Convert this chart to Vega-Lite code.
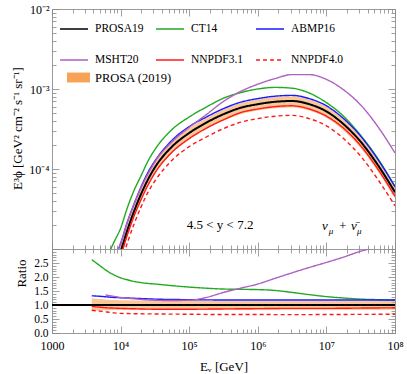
{
"$schema": "https://vega.github.io/schema/vega-lite/v6.json",
"padding": {"left": 10, "top": 2, "right": 5, "bottom": 3},
"bounds": "flush",
"spacing": 0,
"config": {
 "font": "Liberation Serif",
 "view": {"stroke": "#999999", "strokeWidth": 1},
 "axis": {"domain": false, "grid": false, "tickColor": "#888888", "tickWidth": 0.8, "labelColor": "#000000", "labelFont": "Liberation Serif", "labelFontSize": 12, "titleFont": "Liberation Serif", "titleFontSize": 13, "titleFontWeight": "normal", "titleColor": "#000000", "labelOverlap": false, "labelFlush": false},
 "legend": {"labelFont": "Liberation Serif", "labelColor": "#000000", "padding": 0}
},
"datasets": {
 "top": [
  {"E":3981,"s":"PROSA19","v":1.122e-6},{"E":5012,"s":"PROSA19","v":1.995e-6},{"E":6310,"s":"PROSA19","v":3.467e-6},{"E":7943,"s":"PROSA19","v":5.754e-6},{"E":10000,"s":"PROSA19","v":9.333e-6},{"E":12589,"s":"PROSA19","v":1.738e-5},{"E":15849,"s":"PROSA19","v":3.020e-5},{"E":19953,"s":"PROSA19","v":4.898e-5},{"E":25119,"s":"PROSA19","v":7.413e-5},{"E":31623,"s":"PROSA19","v":1.047e-4},{"E":56234,"s":"PROSA19","v":1.905e-4},{"E":100000,"s":"PROSA19","v":2.818e-4},{"E":177828,"s":"PROSA19","v":3.802e-4},{"E":316228,"s":"PROSA19","v":4.842e-4},{"E":562341,"s":"PROSA19","v":5.821e-4},{"E":1000000,"s":"PROSA19","v":6.457e-4},{"E":1778279,"s":"PROSA19","v":6.918e-4},{"E":3162278,"s":"PROSA19","v":7.079e-4},{"E":5623413,"s":"PROSA19","v":6.457e-4},{"E":10000000,"s":"PROSA19","v":5.248e-4},{"E":17782794,"s":"PROSA19","v":3.631e-4},{"E":31622777,"s":"PROSA19","v":2.188e-4},{"E":56234133,"s":"PROSA19","v":1.122e-4},{"E":100000000,"s":"PROSA19","v":5.129e-5},
  {"E":3981,"s":"CT14","v":2.884e-6},{"E":5012,"s":"CT14","v":4.786e-6},{"E":6310,"s":"CT14","v":7.762e-6},{"E":7943,"s":"CT14","v":1.202e-5},{"E":10000,"s":"CT14","v":1.820e-5},{"E":12589,"s":"CT14","v":3.311e-5},{"E":15849,"s":"CT14","v":5.495e-5},{"E":19953,"s":"CT14","v":8.3e-5},{"E":25119,"s":"CT14","v":1.26e-4},{"E":31623,"s":"CT14","v":1.75e-4},{"E":56234,"s":"CT14","v":3.12e-4},{"E":100000,"s":"CT14","v":4.47e-4},{"E":177828,"s":"CT14","v":5.95e-4},{"E":316228,"s":"CT14","v":7.674e-4},{"E":562341,"s":"CT14","v":9.016e-4},{"E":1000000,"s":"CT14","v":1.000e-3},{"E":1778279,"s":"CT14","v":1.047e-3},{"E":3162278,"s":"CT14","v":1.023e-3},{"E":5623413,"s":"CT14","v":8.913e-4},{"E":10000000,"s":"CT14","v":6.761e-4},{"E":17782794,"s":"CT14","v":4.571e-4},{"E":31622777,"s":"CT14","v":2.630e-4},{"E":56234133,"s":"CT14","v":1.349e-4},{"E":100000000,"s":"CT14","v":6.026e-5},
  {"E":3981,"s":"ABMP16","v":1.479e-6},{"E":5012,"s":"ABMP16","v":2.630e-6},{"E":6310,"s":"ABMP16","v":4.467e-6},{"E":7943,"s":"ABMP16","v":7.244e-6},{"E":10000,"s":"ABMP16","v":1.175e-5},{"E":12589,"s":"ABMP16","v":2.188e-5},{"E":15849,"s":"ABMP16","v":3.715e-5},{"E":19953,"s":"ABMP16","v":6.026e-5},{"E":25119,"s":"ABMP16","v":9.120e-5},{"E":31623,"s":"ABMP16","v":1.259e-4},{"E":56234,"s":"ABMP16","v":2.291e-4},{"E":100000,"s":"ABMP16","v":3.388e-4},{"E":177828,"s":"ABMP16","v":4.467e-4},{"E":316228,"s":"ABMP16","v":5.689e-4},{"E":562341,"s":"ABMP16","v":6.840e-4},{"E":1000000,"s":"ABMP16","v":7.586e-4},{"E":1778279,"s":"ABMP16","v":8.128e-4},{"E":3162278,"s":"ABMP16","v":8.318e-4},{"E":5623413,"s":"ABMP16","v":7.586e-4},{"E":10000000,"s":"ABMP16","v":6.166e-4},{"E":17782794,"s":"ABMP16","v":4.266e-4},{"E":31622777,"s":"ABMP16","v":2.570e-4},{"E":56234133,"s":"ABMP16","v":1.318e-4},{"E":100000000,"s":"ABMP16","v":6.026e-5},
  {"E":3981,"s":"MSHT20","v":1.585e-6},{"E":5012,"s":"MSHT20","v":2.818e-6},{"E":6310,"s":"MSHT20","v":4.677e-6},{"E":7943,"s":"MSHT20","v":7.586e-6},{"E":10000,"s":"MSHT20","v":1.175e-5},{"E":12589,"s":"MSHT20","v":2.188e-5},{"E":15849,"s":"MSHT20","v":3.715e-5},{"E":19953,"s":"MSHT20","v":5.888e-5},{"E":25119,"s":"MSHT20","v":8.710e-5},{"E":31623,"s":"MSHT20","v":1.230e-4},{"E":56234,"s":"MSHT20","v":2.188e-4},{"E":100000,"s":"MSHT20","v":3.311e-4},{"E":177828,"s":"MSHT20","v":4.786e-4},{"E":316228,"s":"MSHT20","v":6.998e-4},{"E":562341,"s":"MSHT20","v":9.333e-4},{"E":1000000,"s":"MSHT20","v":1.148e-3},{"E":1778279,"s":"MSHT20","v":1.349e-3},{"E":3162278,"s":"MSHT20","v":1.514e-3},{"E":5623413,"s":"MSHT20","v":1.514e-3},{"E":10000000,"s":"MSHT20","v":1.318e-3},{"E":17782794,"s":"MSHT20","v":9.772e-4},{"E":31622777,"s":"MSHT20","v":6.310e-4},{"E":56234133,"s":"MSHT20","v":3.388e-4},{"E":100000000,"s":"MSHT20","v":1.585e-4},
  {"E":3981,"s":"NNPDF3.1","v":1.072e-6},{"E":5012,"s":"NNPDF3.1","v":1.820e-6},{"E":6310,"s":"NNPDF3.1","v":3.090e-6},{"E":7943,"s":"NNPDF3.1","v":5.129e-6},{"E":10000,"s":"NNPDF3.1","v":8.128e-6},{"E":12589,"s":"NNPDF3.1","v":1.514e-5},{"E":15849,"s":"NNPDF3.1","v":2.630e-5},{"E":19953,"s":"NNPDF3.1","v":4.169e-5},{"E":25119,"s":"NNPDF3.1","v":6.310e-5},{"E":31623,"s":"NNPDF3.1","v":8.913e-5},{"E":56234,"s":"NNPDF3.1","v":1.622e-4},{"E":100000,"s":"NNPDF3.1","v":2.399e-4},{"E":177828,"s":"NNPDF3.1","v":3.236e-4},{"E":316228,"s":"NNPDF3.1","v":4.121e-4},{"E":562341,"s":"NNPDF3.1","v":5.070e-4},{"E":1000000,"s":"NNPDF3.1","v":5.623e-4},{"E":1778279,"s":"NNPDF3.1","v":6.026e-4},{"E":3162278,"s":"NNPDF3.1","v":6.166e-4},{"E":5623413,"s":"NNPDF3.1","v":5.623e-4},{"E":10000000,"s":"NNPDF3.1","v":4.571e-4},{"E":17782794,"s":"NNPDF3.1","v":3.236e-4},{"E":31622777,"s":"NNPDF3.1","v":1.950e-4},{"E":56234133,"s":"NNPDF3.1","v":1.000e-4},{"E":100000000,"s":"NNPDF3.1","v":4.571e-5},
  {"E":3981,"s":"NNPDF4.0","v":9.120e-7},{"E":5012,"s":"NNPDF4.0","v":1.549e-6},{"E":6310,"s":"NNPDF4.0","v":2.570e-6},{"E":7943,"s":"NNPDF4.0","v":4.169e-6},{"E":10000,"s":"NNPDF4.0","v":6.457e-6},{"E":12589,"s":"NNPDF4.0","v":1.202e-5},{"E":15849,"s":"NNPDF4.0","v":2.089e-5},{"E":19953,"s":"NNPDF4.0","v":3.388e-5},{"E":25119,"s":"NNPDF4.0","v":5.129e-5},{"E":31623,"s":"NNPDF4.0","v":7.079e-5},{"E":56234,"s":"NNPDF4.0","v":1.288e-4},{"E":100000,"s":"NNPDF4.0","v":1.905e-4},{"E":177828,"s":"NNPDF4.0","v":2.512e-4},{"E":316228,"s":"NNPDF4.0","v":3.199e-4},{"E":562341,"s":"NNPDF4.0","v":3.846e-4},{"E":1000000,"s":"NNPDF4.0","v":4.266e-4},{"E":1778279,"s":"NNPDF4.0","v":4.571e-4},{"E":3162278,"s":"NNPDF4.0","v":4.677e-4},{"E":5623413,"s":"NNPDF4.0","v":4.266e-4},{"E":10000000,"s":"NNPDF4.0","v":3.467e-4},{"E":17782794,"s":"NNPDF4.0","v":2.399e-4},{"E":31622777,"s":"NNPDF4.0","v":1.445e-4},{"E":56234133,"s":"NNPDF4.0","v":7.413e-5},{"E":100000000,"s":"NNPDF4.0","v":3.467e-5}
 ],
 "bandTop": [
  {"E":3981,"lo":8.710e-7,"hi":1.380e-6},{"E":5012,"lo":1.585e-6,"hi":2.399e-6},{"E":6310,"lo":2.818e-6,"hi":4.169e-6},{"E":7943,"lo":4.677e-6,"hi":6.761e-6},{"E":10000,"lo":7.586e-6,"hi":1.096e-5},{"E":12589,"lo":1.445e-5,"hi":2.042e-5},{"E":15849,"lo":2.512e-5,"hi":3.548e-5},{"E":19953,"lo":4.074e-5,"hi":5.754e-5},{"E":25119,"lo":6.166e-5,"hi":8.710e-5},{"E":31623,"lo":8.710e-5,"hi":1.216e-4},{"E":56234,"lo":1.585e-4,"hi":2.213e-4},{"E":100000,"lo":2.344e-4,"hi":3.236e-4},{"E":177828,"lo":3.162e-4,"hi":4.365e-4},{"E":316228,"lo":4.027e-4,"hi":5.559e-4},{"E":562341,"lo":4.842e-4,"hi":6.684e-4},{"E":1000000,"lo":5.370e-4,"hi":7.413e-4},{"E":1778279,"lo":5.754e-4,"hi":7.943e-4},{"E":3162278,"lo":5.888e-4,"hi":8.128e-4},{"E":5623413,"lo":5.370e-4,"hi":7.413e-4},{"E":10000000,"lo":4.365e-4,"hi":6.026e-4},{"E":17782794,"lo":3.020e-4,"hi":4.169e-4},{"E":31622777,"lo":1.820e-4,"hi":2.512e-4},{"E":56234133,"lo":9.333e-5,"hi":1.288e-4},{"E":100000000,"lo":4.266e-5,"hi":5.888e-5}
 ],
 "notes": [
  {"E":281838,"v":2.0e-5,"t":"4.5 < y < 7.2"}
 ],
 "nu": [
  {"E":9500000,"v":1.95e-5,"t":"ν","fs":13},
  {"E":11700000,"v":1.68e-5,"t":"μ","fs":9},
  {"E":17200000,"v":1.95e-5,"t":"+","fs":13},
  {"E":25100000,"v":1.95e-5,"t":"ν̄","fs":13},
  {"E":30200000,"v":1.68e-5,"t":"μ","fs":9}
 ],
 "ratio": [
  {"E":1000,"s":"PROSA19","r":1},{"E":100000000,"s":"PROSA19","r":1},
  {"E":3800,"s":"CT14","r":2.62},{"E":5012,"s":"CT14","r":2.40},{"E":6310,"s":"CT14","r":2.22},{"E":7943,"s":"CT14","r":2.08},{"E":10000,"s":"CT14","r":1.97},{"E":12589,"s":"CT14","r":1.90},{"E":15849,"s":"CT14","r":1.84},{"E":19953,"s":"CT14","r":1.80},{"E":25119,"s":"CT14","r":1.77},{"E":31623,"s":"CT14","r":1.75},{"E":56234,"s":"CT14","r":1.69},{"E":100000,"s":"CT14","r":1.64},{"E":177828,"s":"CT14","r":1.60},{"E":316228,"s":"CT14","r":1.57},{"E":562341,"s":"CT14","r":1.56},{"E":1000000,"s":"CT14","r":1.55},{"E":1778279,"s":"CT14","r":1.52},{"E":3162278,"s":"CT14","r":1.45},{"E":5623413,"s":"CT14","r":1.37},{"E":10000000,"s":"CT14","r":1.30},{"E":17782794,"s":"CT14","r":1.25},{"E":31622777,"s":"CT14","r":1.21},{"E":56234133,"s":"CT14","r":1.19},{"E":100000000,"s":"CT14","r":1.17},
  {"E":3800,"s":"ABMP16","r":1.33},{"E":5012,"s":"ABMP16","r":1.31},{"E":6310,"s":"ABMP16","r":1.29},{"E":7943,"s":"ABMP16","r":1.27},{"E":10000,"s":"ABMP16","r":1.26},{"E":15849,"s":"ABMP16","r":1.24},{"E":31623,"s":"ABMP16","r":1.21},{"E":100000,"s":"ABMP16","r":1.19},{"E":316228,"s":"ABMP16","r":1.18},{"E":1000000,"s":"ABMP16","r":1.18},{"E":10000000,"s":"ABMP16","r":1.18},{"E":100000000,"s":"ABMP16","r":1.18},
  {"E":6000,"s":"MSHT20","r":1.36},{"E":7943,"s":"MSHT20","r":1.31},{"E":10000,"s":"MSHT20","r":1.27},{"E":15849,"s":"MSHT20","r":1.22},{"E":31623,"s":"MSHT20","r":1.17},{"E":56234,"s":"MSHT20","r":1.16},{"E":100000,"s":"MSHT20","r":1.17},{"E":177828,"s":"MSHT20","r":1.27},{"E":316228,"s":"MSHT20","r":1.45},{"E":562341,"s":"MSHT20","r":1.60},{"E":1000000,"s":"MSHT20","r":1.75},{"E":1778279,"s":"MSHT20","r":1.95},{"E":3162278,"s":"MSHT20","r":2.15},{"E":5623413,"s":"MSHT20","r":2.34},{"E":10000000,"s":"MSHT20","r":2.52},{"E":17782794,"s":"MSHT20","r":2.71},{"E":31622777,"s":"MSHT20","r":2.92},{"E":56234133,"s":"MSHT20","r":3.08},{"E":100000000,"s":"MSHT20","r":3.2},
  {"E":3800,"s":"NNPDF3.1","r":0.95},{"E":5012,"s":"NNPDF3.1","r":0.92},{"E":6310,"s":"NNPDF3.1","r":0.90},{"E":7943,"s":"NNPDF3.1","r":0.89},{"E":10000,"s":"NNPDF3.1","r":0.88},{"E":15849,"s":"NNPDF3.1","r":0.865},{"E":31623,"s":"NNPDF3.1","r":0.85},{"E":100000,"s":"NNPDF3.1","r":0.85},{"E":316228,"s":"NNPDF3.1","r":0.86},{"E":1000000,"s":"NNPDF3.1","r":0.87},{"E":3162278,"s":"NNPDF3.1","r":0.88},{"E":10000000,"s":"NNPDF3.1","r":0.88},{"E":31622777,"s":"NNPDF3.1","r":0.89},{"E":100000000,"s":"NNPDF3.1","r":0.90},
  {"E":3800,"s":"NNPDF4.0","r":0.81},{"E":5012,"s":"NNPDF4.0","r":0.78},{"E":6310,"s":"NNPDF4.0","r":0.75},{"E":7943,"s":"NNPDF4.0","r":0.72},{"E":10000,"s":"NNPDF4.0","r":0.70},{"E":15849,"s":"NNPDF4.0","r":0.69},{"E":31623,"s":"NNPDF4.0","r":0.68},{"E":100000,"s":"NNPDF4.0","r":0.67},{"E":316228,"s":"NNPDF4.0","r":0.66},{"E":1000000,"s":"NNPDF4.0","r":0.66},{"E":3162278,"s":"NNPDF4.0","r":0.655},{"E":10000000,"s":"NNPDF4.0","r":0.66},{"E":31622777,"s":"NNPDF4.0","r":0.665},{"E":100000000,"s":"NNPDF4.0","r":0.67}
 ],
 "rband": [
  {"E":3800,"lo":0.78,"hi":1.24},{"E":5012,"lo":0.80,"hi":1.21},{"E":6310,"lo":0.81,"hi":1.19},{"E":10000,"lo":0.82,"hi":1.17},{"E":31623,"lo":0.83,"hi":1.16},{"E":100000,"lo":0.83,"hi":1.15},{"E":100000000,"lo":0.83,"hi":1.15}
 ]
},
"resolve": {"scale": {"color": "independent", "strokeDash": "independent", "fill": "independent"}},
"vconcat": [
 {
  "width": 343, "height": 240,
  "layer": [
   {
    "data": {"name": "bandTop"},
    "mark": {"type": "area", "clip": true, "fillOpacity": 0.6, "interpolate": "monotone"},
    "encoding": {
     "x": {"field": "E", "type": "quantitative", "scale": {"type": "log", "domain": [1000, 100000000], "nice": false},
       "axis": {"orient": "bottom", "labels": false, "title": null, "values": [1000,2000,3000,4000,5000,6000,7000,8000,9000,10000,20000,30000,40000,50000,60000,70000,80000,90000,100000,200000,300000,400000,500000,600000,700000,800000,900000,1000000,2000000,3000000,4000000,5000000,6000000,7000000,8000000,9000000,10000000,20000000,30000000,40000000,50000000,60000000,70000000,80000000,90000000,100000000],
         "tickSize": {"condition": {"test": "datum.value==1000||datum.value==10000||datum.value==100000||datum.value==1000000||datum.value==10000000||datum.value==100000000", "value": -7}, "value": -4}}},
     "y": {"field": "lo", "type": "quantitative", "scale": {"type": "log", "domain": [0.00001, 0.01], "nice": false},
       "axis": {"orient": "right", "labels": false, "title": null, "values": [1e-5,2e-5,3e-5,4e-5,5e-5,6e-5,7e-5,8e-5,9e-5,1e-4,2e-4,3e-4,4e-4,5e-4,6e-4,7e-4,8e-4,9e-4,1e-3,2e-3,3e-3,4e-3,5e-3,6e-3,7e-3,8e-3,9e-3,1e-2],
         "tickSize": {"condition": {"test": "datum.value==0.00001||datum.value==0.0001||datum.value==0.001||datum.value==0.01", "value": -7}, "value": -4}}},
     "y2": {"field": "hi"},
     "fill": {"datum": "PROSA (2019)", "type": "nominal", "scale": {"domain": ["PROSA (2019)"], "range": ["#f7a254"]},
       "legend": {"title": null, "orient": "none", "legendX": 15, "legendY": 57, "symbolType": "M-1,-0.43H1V0.43H-1Z", "symbolSize": 529, "symbolOpacity": 1, "symbolStrokeWidth": 0, "labelFontSize": 12.5, "labelOffset": 5}}
    }
   },
   {
    "data": {"name": "top"},
    "mark": {"type": "line", "clip": true, "interpolate": "monotone"},
    "encoding": {
     "x": {"field": "E", "type": "quantitative", "scale": {"type": "log", "domain": [1000, 100000000], "nice": false},
       "axis": {"orient": "top", "labels": false, "title": null, "values": [1000,2000,3000,4000,5000,6000,7000,8000,9000,10000,20000,30000,40000,50000,60000,70000,80000,90000,100000,200000,300000,400000,500000,600000,700000,800000,900000,1000000,2000000,3000000,4000000,5000000,6000000,7000000,8000000,9000000,10000000,20000000,30000000,40000000,50000000,60000000,70000000,80000000,90000000,100000000],
         "tickSize": {"condition": {"test": "datum.value==1000||datum.value==10000||datum.value==100000||datum.value==1000000||datum.value==10000000||datum.value==100000000", "value": -7}, "value": -4}}},
     "y": {"field": "v", "type": "quantitative", "scale": {"type": "log", "domain": [0.00001, 0.01], "nice": false},
       "axis": {"orient": "left", "title": "E³ϕ [GeV² cm⁻² s⁻¹ sr⁻¹]", "titleX": -35, "titleY": 119, "titleBaseline": "middle", "labelPadding": 10, "values": [1e-5,2e-5,3e-5,4e-5,5e-5,6e-5,7e-5,8e-5,9e-5,1e-4,2e-4,3e-4,4e-4,5e-4,6e-4,7e-4,8e-4,9e-4,1e-3,2e-3,3e-3,4e-3,5e-3,6e-3,7e-3,8e-3,9e-3,1e-2],
         "labelExpr": "datum.value==0.01?'10⁻²':datum.value==0.001?'10⁻³':datum.value==0.0001?'10⁻⁴':''",
         "tickSize": {"condition": {"test": "datum.value==0.00001||datum.value==0.0001||datum.value==0.001||datum.value==0.01", "value": -7}, "value": -4}}},
     "color": {"field": "s", "type": "nominal", "scale": {"domain": ["PROSA19","CT14","ABMP16","MSHT20","NNPDF3.1","NNPDF4.0"], "range": ["#000000","#22aa22","#1a1aff","#b060c0","#ff1a1a","#ff1a1a"]},
       "legend": {"title": null, "orient": "none", "legendX": 7, "legendY": 5, "direction": "horizontal", "columns": 3, "gridAlign": "none", "symbolType": "stroke", "symbolSize": 784, "symbolStrokeWidth": 1.6, "labelFontSize": 11.5, "labelOffset": 6, "columnPadding": 8, "rowPadding": 10}},
     "strokeDash": {"field": "s", "type": "nominal", "scale": {"domain": ["PROSA19","CT14","ABMP16","MSHT20","NNPDF3.1","NNPDF4.0"], "range": [[1,0],[1,0],[1,0],[1,0],[1,0],[4,3]]},
       "legend": {"title": null, "orient": "none", "legendX": 7, "legendY": 5, "direction": "horizontal", "columns": 3, "gridAlign": "none", "symbolType": "stroke", "symbolSize": 784, "symbolStrokeWidth": 1.6, "labelFontSize": 11.5, "labelOffset": 6, "columnPadding": 8, "rowPadding": 10}},
     "strokeWidth": {"condition": {"test": "datum.s=='PROSA19'", "value": 2}, "value": 1.4}
    }
   },
   {
    "data": {"name": "notes"},
    "mark": {"type": "text", "fontSize": 13, "font": "Liberation Serif", "color": "#000000"},
    "encoding": {
     "x": {"field": "E", "type": "quantitative", "axis": null},
     "y": {"field": "v", "type": "quantitative", "axis": null},
     "text": {"field": "t"}
    }
   },
   {
    "data": {"name": "nu"},
    "mark": {"type": "text", "font": "Liberation Serif", "fontStyle": "italic", "color": "#000000"},
    "encoding": {
     "x": {"field": "E", "type": "quantitative", "axis": null},
     "y": {"field": "v", "type": "quantitative", "axis": null},
     "text": {"field": "t"},
     "size": {"field": "fs", "type": "quantitative", "scale": null}
    }
   }
  ]
 },
 {
  "width": 343, "height": 84,
  "layer": [
   {
    "data": {"name": "rband"},
    "mark": {"type": "area", "clip": true, "fillOpacity": 0.6, "interpolate": "monotone", "fill": "#f7a254"},
    "encoding": {
     "x": {"field": "E", "type": "quantitative", "scale": {"type": "log", "domain": [1000, 100000000], "nice": false},
       "axis": {"orient": "bottom", "title": "Eᵥ  [GeV]", "titleY": 33, "titleBaseline": "middle", "labelPadding": 14, "values": [1000,2000,3000,4000,5000,6000,7000,8000,9000,10000,20000,30000,40000,50000,60000,70000,80000,90000,100000,200000,300000,400000,500000,600000,700000,800000,900000,1000000,2000000,3000000,4000000,5000000,6000000,7000000,8000000,9000000,10000000,20000000,30000000,40000000,50000000,60000000,70000000,80000000,90000000,100000000],
         "labelExpr": "datum.value==1000?'1000':datum.value==10000?'10⁴':datum.value==100000?'10⁵':datum.value==1000000?'10⁶':datum.value==10000000?'10⁷':datum.value==100000000?'10⁸':''",
         "tickSize": {"condition": {"test": "datum.value==1000||datum.value==10000||datum.value==100000||datum.value==1000000||datum.value==10000000||datum.value==100000000", "value": -7}, "value": -4}}},
     "y": {"field": "lo", "type": "quantitative", "scale": {"domain": [0, 3], "nice": false, "zero": false},
       "axis": {"orient": "right", "labels": false, "title": null, "values": [0,0.1,0.2,0.3,0.4,0.5,0.6,0.7,0.8,0.9,1.0,1.1,1.2,1.3,1.4,1.5,1.6,1.7,1.8,1.9,2.0,2.1,2.2,2.3,2.4,2.5,2.6,2.7,2.8,2.9,3.0],
         "tickSize": {"condition": {"test": "abs(datum.value*2-round(datum.value*2))<0.01", "value": -7}, "value": -4}}},
     "y2": {"field": "hi"}
    }
   },
   {
    "data": {"name": "ratio"},
    "mark": {"type": "line", "clip": true, "interpolate": "monotone"},
    "encoding": {
     "x": {"field": "E", "type": "quantitative", "scale": {"type": "log", "domain": [1000, 100000000], "nice": false},
       "axis": {"orient": "top", "labels": false, "title": null, "values": [1000,2000,3000,4000,5000,6000,7000,8000,9000,10000,20000,30000,40000,50000,60000,70000,80000,90000,100000,200000,300000,400000,500000,600000,700000,800000,900000,1000000,2000000,3000000,4000000,5000000,6000000,7000000,8000000,9000000,10000000,20000000,30000000,40000000,50000000,60000000,70000000,80000000,90000000,100000000],
         "tickSize": {"condition": {"test": "datum.value==1000||datum.value==10000||datum.value==100000||datum.value==1000000||datum.value==10000000||datum.value==100000000", "value": -7}, "value": -4}}},
     "y": {"field": "r", "type": "quantitative", "scale": {"domain": [0, 3], "nice": false, "zero": false},
       "axis": {"orient": "left", "title": "Ratio", "titleX": -31, "titleY": 24, "titleBaseline": "middle", "labelPadding": 11, "labelFontSize": 11.5, "values": [0,0.1,0.2,0.3,0.4,0.5,0.6,0.7,0.8,0.9,1.0,1.1,1.2,1.3,1.4,1.5,1.6,1.7,1.8,1.9,2.0,2.1,2.2,2.3,2.4,2.5,2.6,2.7,2.8,2.9,3.0],
         "labelExpr": "(datum.value<2.9 && abs(datum.value*2-round(datum.value*2))<0.01) ? format(datum.value,'.1f') : ''",
         "tickSize": {"condition": {"test": "abs(datum.value*2-round(datum.value*2))<0.01", "value": -7}, "value": -4}}},
     "color": {"field": "s", "type": "nominal", "scale": {"domain": ["PROSA19","CT14","ABMP16","MSHT20","NNPDF3.1","NNPDF4.0"], "range": ["#000000","#22aa22","#1a1aff","#b060c0","#ff1a1a","#ff1a1a"]}, "legend": null},
     "strokeDash": {"field": "s", "type": "nominal", "scale": {"domain": ["PROSA19","CT14","ABMP16","MSHT20","NNPDF3.1","NNPDF4.0"], "range": [[1,0],[1,0],[1,0],[1,0],[1,0],[4,3]]}, "legend": null},
     "strokeWidth": {"condition": {"test": "datum.s=='PROSA19'", "value": 2}, "value": 1.4}
    }
   }
  ]
 }
]
}
